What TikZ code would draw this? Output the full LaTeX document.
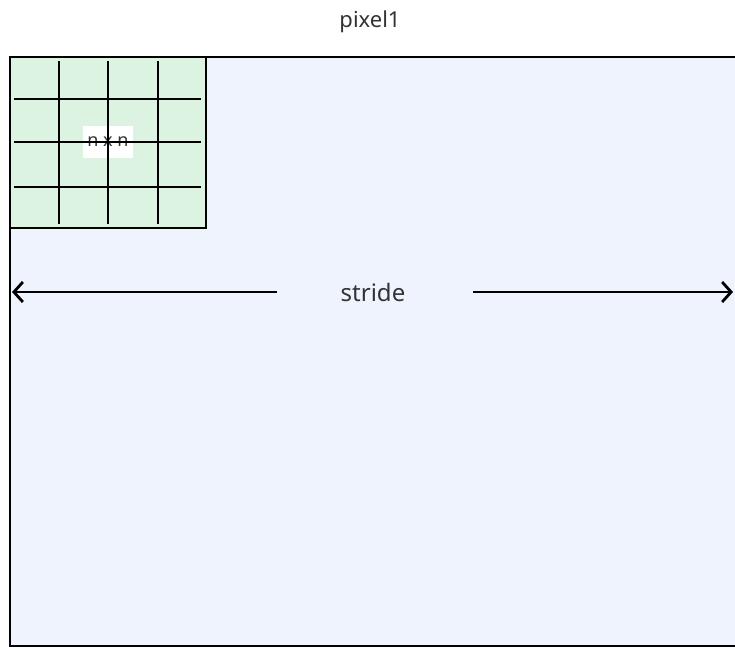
\documentclass[tikz,border=0pt]{standalone}
\usepackage{fontspec}
\setmainfont{Noto Sans}
\usetikzlibrary{arrows.meta}
\definecolor{bigfill}{HTML}{EFF3FD}
\definecolor{gridfill}{HTML}{DDF3E1}
\definecolor{txt}{HTML}{333333}
\tikzset{
  frame/.style={draw=black, line width=2.8pt},
  gridline/.style={draw=black, line width=2.8pt},
  lbl/.style={text=txt, inner sep=0pt},
  dimarrow/.style={draw=black, line width=2.8pt, -{Straight Barb[length=9pt,width=20pt,line width=2.8pt]}},
}
\begin{document}
\begin{tikzpicture}[x=1pt,y=-1pt]
\useasboundingbox (0,0) rectangle (735,648);
\begin{scope}
\clip (0,0) rectangle (735,648);
\draw[frame, fill=bigfill] (10,57) rectangle (745,646);
\end{scope}
\draw[frame, fill=gridfill] (10,57) rectangle (206,228);
\node[fill=white, minimum width=50pt, minimum height=32pt, inner sep=0pt, text=txt, font=\fontsize{18}{20}\selectfont] (nn) at (108,142) {n x n};
\foreach \x in {59,108,158} \draw[gridline] (\x,61) -- (\x,224);
\foreach \y in {99,142,187} \draw[gridline] (14,\y) -- (201,\y);
\node[lbl, font=\fontsize{22}{26}\selectfont] (title) at (370,22) {pixel1};
\node[lbl, font=\fontsize{24}{28}\selectfont] (stride) at (373,292) {stride};
\coordinate (lend) at (12,292);
\coordinate (rend) at (733,292);
\coordinate (lstart) at (277,292);
\coordinate (rstart) at (473,292);
\draw[dimarrow] (lstart) -- (lend);
\draw[dimarrow] (rstart) -- (rend);
\end{tikzpicture}
\end{document}
